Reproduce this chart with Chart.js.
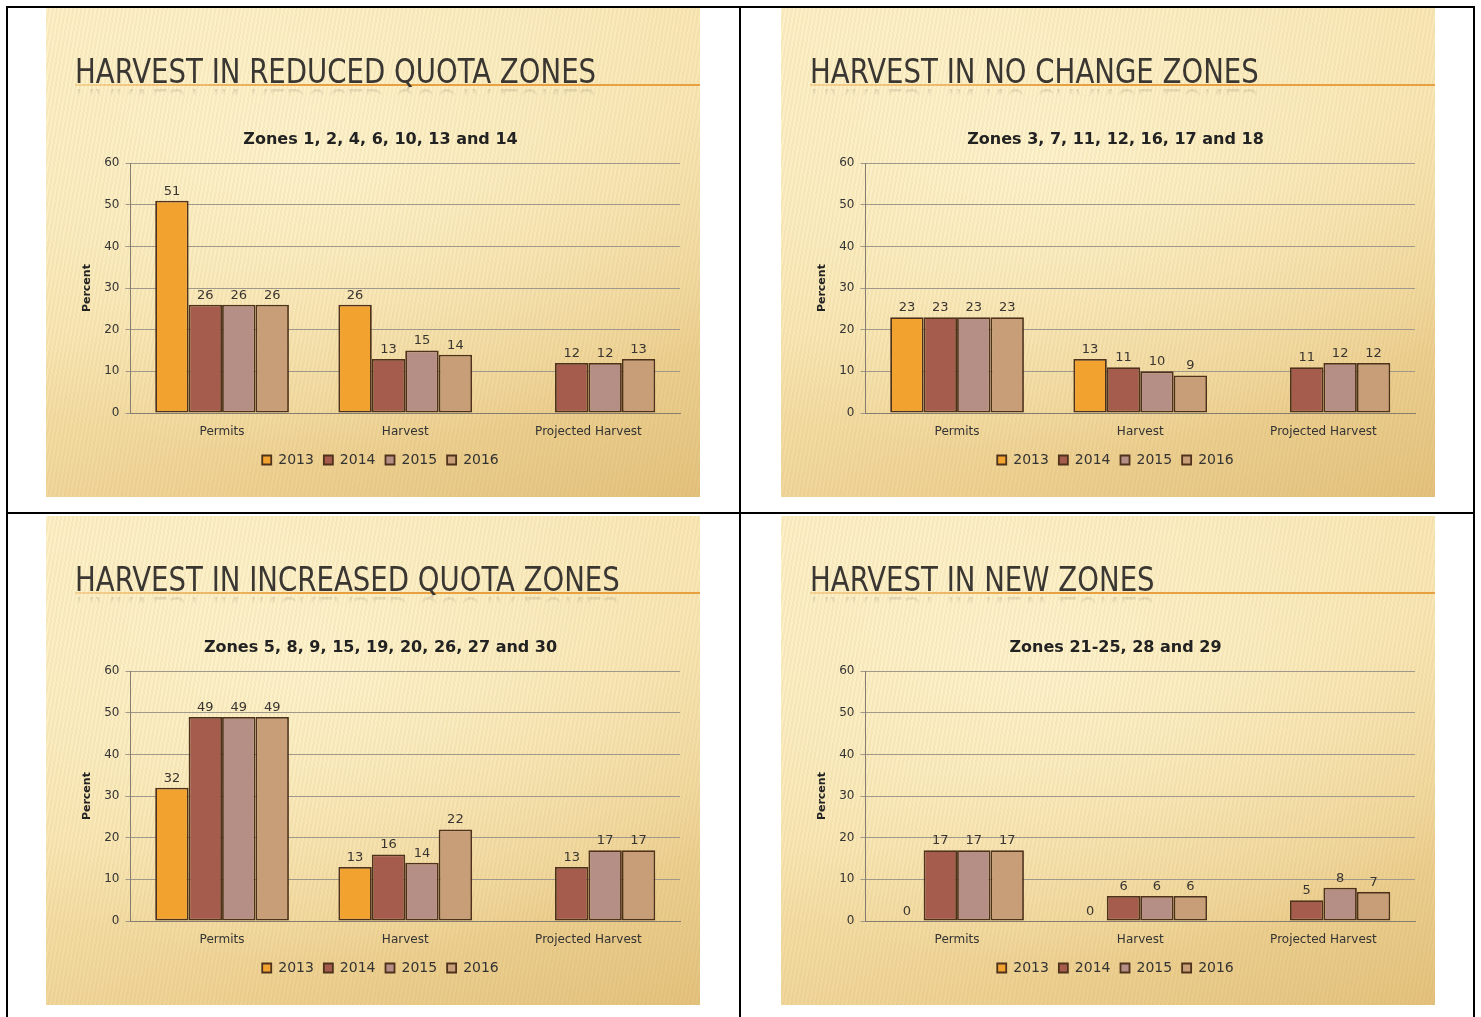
<!DOCTYPE html>
<html>
<head>
<meta charset="utf-8">
<script src="https://cdn.jsdelivr.net/npm/chart.js@4"></script>
<style>
  body { margin: 0; background: #fff; width: 1481px; height: 1017px; overflow: hidden; position: relative; }
  .rule { position: absolute; background: #000; }
  .slide {
    position: absolute; width: 654px; height: 489px; overflow: hidden;
    background:
      repeating-linear-gradient(100deg, rgba(255,255,255,0) 0px, rgba(255,255,255,0) 2px, rgba(190,150,70,0.09) 2px, rgba(190,150,70,0.09) 4px),
      radial-gradient(ellipse 520px 300px at 40% 30%, rgba(255,248,215,0.7), rgba(255,248,215,0) 100%),
      linear-gradient(160deg, #FCEEC4 0%, #F7E3AE 45%, #EED294 75%, #E3C27E 100%);
  }
  .slide h1 {
    position: absolute; left: 29px; top: 44px; margin: 0;
    font: 33px "DejaVu Sans Condensed", "Liberation Sans", sans-serif;
    color: #3a3632; white-space: nowrap;
    transform-origin: 0 0; transform: scaleX(0.93);
    -webkit-box-reflect: below -10px linear-gradient(transparent 62%, rgba(255,255,255,0.3));
  }
  .slide .bar {
    position: absolute; left: 29px; right: 0; top: 76px; height: 2px;
    background: linear-gradient(to right, rgba(230,150,40,0.3), #E8A040 40%, #E8A040);
  }
  .slide canvas { position: absolute; left: 35px; top: 116px; }
</style>
</head>
<body>
<div class="rule" style="left:6px;top:6px;width:1469px;height:2px"></div>
<div class="rule" style="left:6px;top:512px;width:1469px;height:2px"></div>
<div class="rule" style="left:6px;top:6px;width:2px;height:1011px"></div>
<div class="rule" style="left:739px;top:6px;width:2px;height:1011px"></div>
<div class="rule" style="left:1473px;top:6px;width:2px;height:1011px"></div>

<div class="slide" style="left:46px;top:8px"><div class="bar"></div><h1>HARVEST IN REDUCED QUOTA ZONES</h1><canvas id="c1"></canvas></div>
<div class="slide" style="left:781px;top:8px"><div class="bar"></div><h1>HARVEST IN NO CHANGE ZONES</h1><canvas id="c2"></canvas></div>
<div class="slide" style="left:46px;top:516px"><div class="bar"></div><h1>HARVEST IN INCREASED QUOTA ZONES</h1><canvas id="c3"></canvas></div>
<div class="slide" style="left:781px;top:516px"><div class="bar"></div><h1>HARVEST IN NEW ZONES</h1><canvas id="c4"></canvas></div>

<script>
const categories = ['Permits', 'Harvest', 'Projected Harvest'];
const years = ['2013', '2014', '2015', '2016'];
const yearColors = ['#F2A22E', '#A55C4C', '#B58F86', '#C89E78'];

// values per year: [Permits, Harvest, Projected Harvest]
const reduced2013 = [51, 26, null];
const reduced2014 = [26, 13, 12];
const reduced2015 = [26, 15, 12];
const reduced2016 = [26, 14, 13];

const noChange2013 = [23, 13, null];
const noChange2014 = [23, 11, 11];
const noChange2015 = [23, 10, 12];
const noChange2016 = [23, 9, 12];

const increased2013 = [32, 13, null];
const increased2014 = [49, 16, 13];
const increased2015 = [49, 14, 17];
const increased2016 = [49, 22, 17];

const new2013 = [0, 0, null];
const new2014 = [17, 6, 5];
const new2015 = [17, 6, 8];
const new2016 = [17, 6, 7];

const yTicks = [0, 10, 20, 30, 40, 50, 60];

const FONT = '"DejaVu Sans", "Liberation Sans", sans-serif';

const barLabels = {
  id: 'barLabels',
  afterDatasetsDraw(chart) {
    const ctx = chart.ctx;
    ctx.save();
    ctx.font = '13px ' + FONT;
    ctx.fillStyle = '#3a3530';
    ctx.textAlign = 'center';
    ctx.textBaseline = 'bottom';
    chart.data.datasets.forEach((ds, i) => {
      chart.getDatasetMeta(i).data.forEach((bar, j) => {
        const v = ds.data[j];
        if (v === null || v === undefined) return;
        ctx.fillText(String(v), bar.x, bar.y - 3);
      });
    });
    ctx.restore();
  }
};

function makeChart(id, subtitle, series) {
  const cv = document.getElementById(id);
  cv.width = 611;
  cv.height = 353;
  cv.style.width = '611px';
  cv.style.height = '353px';
  return new Chart(cv, {
    type: 'bar',
    data: {
      labels: categories,
      datasets: series.map((vals, i) => ({
        label: years[i],
        data: vals,
        backgroundColor: yearColors[i],
        borderColor: '#4e321c',
        borderWidth: 1.8,
        borderSkipped: false,
        categoryPercentage: 0.73,
        barPercentage: 1.0
      }))
    },
    options: {
      responsive: false,
      animation: false,
      layout: { padding: { left: 0, right: 12, top: 0, bottom: 0 } },
      plugins: {
        title: {
          display: true,
          text: subtitle,
          color: '#222',
          font: { family: FONT, size: 16, weight: 'bold' },
          padding: { top: 6, bottom: 14 }
        },
        legend: {
          position: 'bottom',
          labels: {
            boxWidth: 9, boxHeight: 9, padding: 10,
            color: '#333',
            font: { family: FONT, size: 14 }
          }
        },
        tooltip: { enabled: false }
      },
      scales: {
        x: {
          grid: { display: false },
          border: { color: '#857e70', width: 1 },
          ticks: { color: '#333', font: { family: FONT, size: 12, lineHeight: 0.5 }, padding: 8 }
        },
        y: {
          min: 0, max: 60,
          afterBuildTicks(axis) { axis.ticks = yTicks.map(v => ({ value: v })); },
          grid: { color: '#a0988a', tickLength: 5 },
          border: { color: '#857e70', width: 1 },
          ticks: { color: '#333', font: { family: FONT, size: 12 }, padding: 6 },
          title: {
            display: true, text: 'Percent', color: '#222',
            font: { family: FONT, size: 11, weight: 'bold' },
            padding: { top: 0, bottom: 4 }
          }
        }
      }
    },
    plugins: [barLabels]
  });
}

makeChart('c1', 'Zones 1, 2, 4, 6, 10, 13 and 14', [reduced2013, reduced2014, reduced2015, reduced2016]);
makeChart('c2', 'Zones 3, 7, 11, 12, 16, 17 and 18', [noChange2013, noChange2014, noChange2015, noChange2016]);
makeChart('c3', 'Zones 5, 8, 9, 15, 19, 20, 26, 27 and 30', [increased2013, increased2014, increased2015, increased2016]);
makeChart('c4', 'Zones 21-25, 28 and 29', [new2013, new2014, new2015, new2016]);
</script>
</body>
</html>
